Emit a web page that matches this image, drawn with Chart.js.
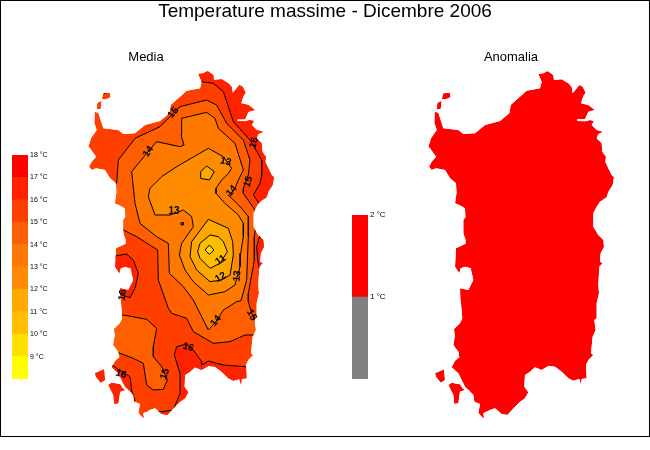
<!DOCTYPE html>
<html>
<head>
<meta charset="utf-8">
<script src="https://cdn.jsdelivr.net/npm/chart.js@4"></script>
<style>
  html, body { margin: 0; padding: 0; background: #fff; }
  #frame { position: absolute; left: 0; top: 0; width: 648px; height: 435px; border: 1px solid #000; }
  canvas { position: absolute; display: block; }
  #map { left: 0; top: 0; }
  #legendMedia { left: 12px; top: 145px; }
  #legendAnom { left: 352px; top: 205px; }
</style>
</head>
<body>
<div id="frame"></div>
<canvas id="map" width="650" height="450"></canvas>
<canvas id="legendMedia" width="60" height="244"></canvas>
<canvas id="legendAnom" width="60" height="184"></canvas>
<script>
/* ── Coast, in map units ────────────────────────────────────────────── */
const coastMain = [[355,42],[370,40],[383,33],[400,45],[402,60],[425,58],[445,70],[455,80],[458,100],[478,75],[488,80],[497,98],[490,108],[483,130],[505,135],[525,150],[505,155],[495,178],[472,178],[472,183],[497,184],[510,180],[522,183],[515,195],[530,210],[550,215],[535,222],[530,235],[545,250],[547,275],[558,290],[556,305],[565,325],[575,345],[582,352],[578,375],[565,395],[560,412],[540,425],[530,440],[520,460],[520,500],[535,525],[550,540],[552,560],[542,580],[540,605],[548,610],[538,620],[535,675],[537,700],[530,730],[530,775],[523,780],[527,810],[518,830],[513,880],[520,885],[505,900],[498,915],[500,955],[485,957],[483,975],[478,957],[460,962],[445,955],[425,935],[405,920],[385,918],[365,930],[345,922],[330,935],[315,945],[313,980],[325,997],[315,1015],[300,1025],[285,1040],[262,1065],[245,1062],[225,1045],[210,1050],[190,1060],[192,1075],[186,1072],[175,1058],[180,1032],[163,1025],[160,1005],[148,992],[135,980],[115,940],[95,922],[105,902],[118,892],[115,875],[100,855],[105,825],[102,807],[120,790],[127,775],[122,720],[120,685],[135,688],[145,690],[160,660],[152,625],[135,620],[122,625],[118,640],[105,620],[108,565],[135,552],[137,540],[130,520],[130,480],[137,470],[135,445],[118,435],[105,430],[110,395],[108,370],[90,355],[75,330],[48,325],[35,330],[27,320],[35,305],[48,290],[30,265],[25,260],[33,235],[50,210],[42,185],[44,155],[55,158],[70,205],[115,210],[130,222],[165,220],[195,195],[240,183],[268,160],[272,135],[320,92],[360,85],[365,65]];
const coastSanPietro = [[45,940],[72,928],[75,960],[62,968],[48,950]];
const coastAntioco = [[85,975],[95,968],[120,973],[128,985],[135,990],[120,995],[115,1030],[103,1032],[100,1005]];
const coastAsinara = [[52,128],[65,122],[62,148],[50,148]];
const coastPiana = [[70,100],[90,98],[92,112],[78,118],[65,118]];
const coasts = [coastMain, coastSanPietro, coastAntioco, coastAsinara, coastPiana];

/* ── Isotherms, each closed and running past the coast where it ends ── */
const zone15 = [[60,370],[110,370],[115,300],[165,235],[240,200],[280,160],[300,140],[380,120],[410,135],[440,190],[490,240],[510,300],[505,345],[490,385],[490,400],[525,450],[530,480],[523,530],[523,600],[505,700],[505,725],[515,760],[530,795],[600,795],[600,825],[525,825],[495,825],[450,845],[400,850],[340,815],[320,775],[275,760],[265,745],[235,660],[233,570],[170,530],[130,510],[60,510]];
const zone15sw = [[130,765],[200,778],[230,805],[220,860],[220,890],[245,920],[262,960],[250,988],[220,990],[200,975],[190,910],[160,895],[115,878],[70,878],[70,765]];
const zone14 = [[305,175],[380,157],[405,175],[415,205],[465,250],[490,330],[475,360],[463,390],[445,405],[485,445],[505,470],[505,530],[503,580],[500,660],[483,722],[470,725],[430,750],[408,785],[385,810],[340,720],[310,680],[268,640],[265,550],[230,530],[180,490],[165,430],[155,335],[200,280],[230,245],[300,260],[312,255],[303,225]];
const zone13 = [[385,265],[430,290],[455,325],[445,340],[425,360],[408,385],[408,400],[435,430],[475,465],[490,490],[490,530],[482,580],[480,620],[465,675],[435,695],[385,705],[340,665],[315,630],[298,585],[305,550],[340,500],[335,470],[310,450],[270,465],[225,465],[205,410],[210,385],[245,350],[290,320]];
const speck14 = [[303,488],[310,488],[310,495],[303,495]];
const zone12north = [[380,318],[403,335],[388,360],[362,355],[362,335]];
const zone12 = [[385,478],[335,545],[330,590],[350,630],[390,665],[425,660],[450,645],[460,585],[458,545],[445,505]];
const zone11 = [[390,525],[360,550],[353,575],[360,595],[390,625],[420,610],[442,575],[430,545],[415,530]];
const zone10 = [[388,555],[402,570],[388,583],[375,570]];
const zone16ne = [[350,68],[362,65],[400,70],[430,95],[460,185],[510,240],[545,300],[545,345],[540,370],[520,405],[537,430],[640,430],[640,0],[350,0]];
const zone16east = [[540,525],[530,560],[533,600],[538,625],[620,625],[620,525]];
const zone16south = [[200,1055],[245,1055],[280,1050],[300,1000],[300,940],[283,885],[290,860],[320,852],[340,870],[365,905],[365,915],[385,903],[430,915],[497,920],[600,920],[600,1120],[200,1120]];
const zone16sw = [[90,910],[115,928],[150,950],[155,990],[165,1022],[150,1030],[150,1120],[0,1120],[0,910]];
const zone16west = [[80,590],[105,588],[140,582],[160,600],[175,640],[165,685],[150,713],[125,705],[80,705]];
const isletMark = [[70,102],[85,95]];

/* ── Colours per band ───────────────────────────────────────────────── */
const legendLevels = [8, 9, 10, 11, 12, 13, 14, 15, 16, 17, 18];
const legendColors = ['#ffff00', '#ffdf00', '#ffbf00', '#ffa800', '#ff8c00', '#ff7800', '#ff5f00', '#ff3f00', '#ff2200', '#ff0000'];
const anomLevels = [0, 1, 2];
const anomColors = ['#808080', '#ff0000'];
const bandColor = t => legendColors[legendLevels.indexOf(t)];

/* ── Contour labels: text, u, v, rotation in degrees ────────────────── */
const contourLabels = [
    ['15', 280, 158, -50], ['14', 205, 275, -55], ['16', 522, 248, -75], ['13', 437, 305, 15],
    ['14', 455, 393, -50], ['15', 505, 365, -75], ['13', 282, 455, 0], ['11', 422, 600, -35],
    ['12', 422, 652, -30], ['13', 472, 648, -85], ['14', 408, 783, -50], ['15', 515, 765, 60],
    ['16', 128, 705, -80], ['16', 325, 862, 15], ['16', 123, 942, 15], ['15', 255, 942, -70],
];
const panelTitles = [['Media', 146, 57], ['Anomalia', 511, 57]];
const mainTitle = 'Temperature massime - Dicembre 2006';

const FONT = "'Liberation Sans', Arial, sans-serif";
const toPts = arr => arr.map(p => ({ x: p[0], y: p[1] }));

function area(arr, color, extra = {}) {
    return { data: toPts(arr.concat([arr[0]])), showLine: true, fill: 'shape', backgroundColor: color,
        borderColor: '#000', borderWidth: 1, pointRadius: 0, tension: 0, clip: false, ...extra };
}

/* ── Outer first, reversed below: Chart.js paints the first set last ── */
const sets = [];
coasts.forEach(c => sets.push(area(c, anomColors[1], { xAxisID: 'x2', borderWidth: 0 })));
coasts.forEach(c => sets.push(area(c, bandColor(15), { borderWidth: 0 })));
[
    [zone16ne, 16], [zone16east, 16], [zone16south, 16], [zone16sw, 16], [zone16west, 16],
    [zone15, 14], [zone15sw, 14], [zone14, 13], [speck14, 14], [zone13, 12],
    [zone12north, 11], [zone12, 11], [zone11, 10], [zone10, 9],
].forEach(([z, t]) => sets.push(area(z, bandColor(t))));
sets.push({ data: toPts(isletMark), showLine: true, borderColor: '#000', borderWidth: 1, pointRadius: 0, clip: false });

/* ── Clip all isotherms to the coast, then write the labels ─────────── */
const coastClip = {
    id: 'coastClip',
    beforeDatasetsDraw(chart) {
        const { ctx, scales: { x, x2, y } } = chart;
        ctx.save();
        ctx.beginPath();
        [x, x2].forEach(sx => coasts.forEach(c => {
            c.forEach((p, i) => {
                const px = sx.getPixelForValue(p[0]), py = y.getPixelForValue(p[1]);
                if (i === 0) ctx.moveTo(px, py); else ctx.lineTo(px, py);
            });
            ctx.closePath();
        }));
        ctx.clip();
    },
    afterDatasetsDraw(chart) {
        const { ctx, scales: { x, y } } = chart;
        ctx.restore();
        ctx.save();
        ctx.fillStyle = '#000';
        ctx.textAlign = 'center';
        ctx.textBaseline = 'middle';
        ctx.font = 'bold 10px ' + FONT;
        contourLabels.forEach(([t, u, v, rot]) => {
            ctx.save();
            ctx.translate(x.getPixelForValue(u), y.getPixelForValue(v));
            ctx.rotate(rot * Math.PI / 180);
            ctx.fillText(t, 0, 0);
            ctx.restore();
        });
        ctx.font = '13px ' + FONT;
        panelTitles.forEach(([t, px, py]) => ctx.fillText(t, px, py));
        ctx.restore();
    },
};

new Chart(document.getElementById('map'), {
    type: 'scatter',
    data: { datasets: sets.reverse() },
    options: {
        responsive: false,
        animation: false,
        events: [],
        layout: { padding: 0 },
        plugins: {
            legend: { display: false },
            tooltip: { enabled: false },
            title: { display: true, text: mainTitle, color: '#000', padding: { top: 0, bottom: 7.2 },
                font: { family: FONT, size: 19, weight: 'normal', lineHeight: 1.2 } },
        },
        scales: {
            x: { type: 'linear', display: false, min: -240, max: 1710 },
            x2: { type: 'linear', axis: 'x', display: false, min: -1260, max: 690 },
            y: { type: 'linear', display: false, reverse: true, min: -90, max: 1170 },
        },
    },
    plugins: [coastClip],
});

/* ── Colour bars ────────────────────────────────────────────────────── */
function colorBar(id, levels, colors, fontSize) {
    new Chart(document.getElementById(id), {
        type: 'bar',
        data: {
            labels: [''],
            datasets: colors.map((c, i) => ({
                data: [[levels[i], levels[i + 1]]],
                backgroundColor: c,
                borderWidth: 0,
                barPercentage: 1,
                categoryPercentage: 1,
            })),
        },
        options: {
            responsive: false,
            animation: false,
            events: [],
            layout: { padding: { top: 10, bottom: 10, left: 0, right: 0 } },
            plugins: { legend: { display: false }, tooltip: { enabled: false } },
            scales: {
                x: { display: false, stacked: false },
                y: {
                    position: 'right',
                    min: levels[0],
                    max: levels[levels.length - 1],
                    grid: { display: false, drawTicks: false },
                    border: { display: false },
                    afterFit(scale) { scale.width = 44; },
                    ticks: {
                        stepSize: 1,
                        autoSkip: false,
                        padding: 2,
                        color: '#000',
                        font: { family: FONT, size: fontSize },
                        callback: v => (v === levels[0] ? '' : v + ' °C'),
                    },
                },
            },
            datasets: { bar: { grouped: false } },
        },
    });
}
colorBar('legendMedia', legendLevels, legendColors, 7);
colorBar('legendAnom', anomLevels, anomColors, 8);
</script>
</body>
</html>
